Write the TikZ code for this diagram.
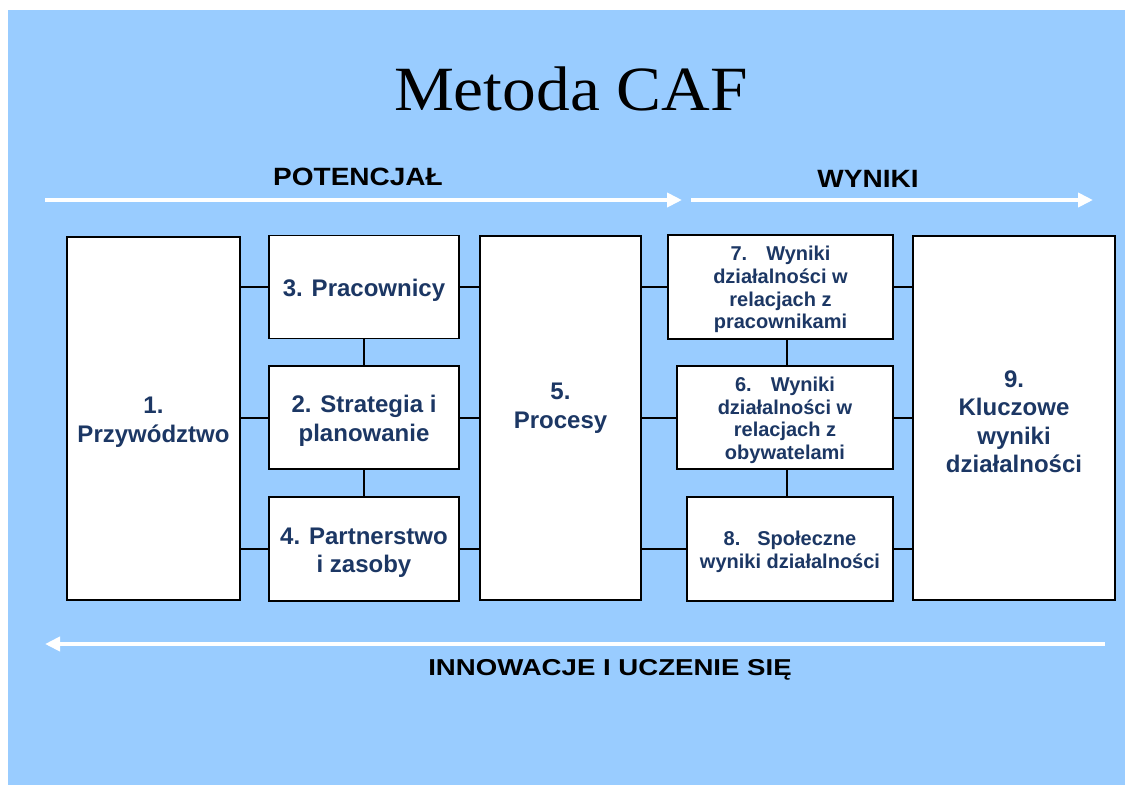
\documentclass[tikz,border=0pt]{standalone}
\usepackage{fontspec}
\setmainfont{Liberation Sans}
\newfontfamily\titlefont[FakeStretch=1.07]{Liberation Serif}
\newfontfamily\headfont[FakeStretch=1.12]{Liberation Sans}
\newfontfamily\innofont[FakeStretch=1.2]{Liberation Sans}
\usetikzlibrary{arrows.meta}
\definecolor{bgblue}{RGB}{153,204,255}
\definecolor{navy}{RGB}{28,55,100}
\newcommand{\bigup}{\rule{0pt}{24pt}}
\newcommand{\smallup}{\rule{0pt}{20pt}}
\begin{document}
\begin{tikzpicture}[x=1pt,y=-1pt,
  box/.style={draw=black, line width=1.5pt, fill=white, inner sep=0pt, align=center,
    text=navy, font=\bfseries\fontsize{24}{28.5}\selectfont},
  smallbox/.style={box, font=\bfseries\fontsize{20}{22.7}\selectfont},
  boxtext/.style={inner sep=0pt, align=center, text=navy, font=\bfseries\fontsize{24}{28.5}\selectfont},
  link/.style={draw=black, line width=2pt},
  flow/.style={draw=white, line width=4pt, -{Triangle[length=15pt,width=14pt]}},
  head/.style={inner sep=0pt, anchor=base, text=black, font=\headfont\bfseries\fontsize{25}{30}\selectfont}]
\useasboundingbox (0,0) rectangle (1125,785);
\fill[white] (0,0) rectangle (1125,785);
\fill[bgblue] (8,10) rectangle (1125,785);

% title
\node[inner sep=0pt, anchor=base, font=\titlefont\fontsize{63}{70}\selectfont] (title) at (571,110) {Metoda CAF};

% headings
\node[head] (pot) at (358,185) {POTENCJAŁ};
\node[head] (wyn) at (868,187) {WYNIKI};
\node[inner sep=0pt, anchor=base, text=black, font=\innofont\bfseries\fontsize{23}{28}\selectfont] (inno) at (610,675) {INNOWACJE I UCZENIE SIĘ};

% arrows
\coordinate (a1s) at (45,200);
\coordinate (a1e) at (682,200);
\coordinate (a2s) at (691,200);
\coordinate (a2e) at (1093,200);
\coordinate (a3s) at (1105,644);
\coordinate (a3e) at (45,644);
\draw[flow] (a1s) -- (a1e);
\draw[flow] (a2s) -- (a2e);
\draw[flow] (a3s) -- (a3e);

% boxes
\node[box, minimum width=173pt, minimum height=363pt] (b1) at (153.5,418.5) {\bigup 1.\\Przywództwo};
\node[box, minimum width=190pt, minimum height=103pt] (b3) at (364,287) {\bigup 3. Pracownicy};
\node[box, minimum width=190pt, minimum height=103pt] (b2) at (364,417.5) {\bigup 2. Strategia i\\planowanie};
\node[box, minimum width=190pt, minimum height=104pt] (b4) at (364,549) {\bigup 4. Partnerstwo\\i zasoby};
\node[box, minimum width=161pt, minimum height=364pt] (b5) at (560.5,418) {};
\node[boxtext] (t5) at ([yshift=10pt]b5.center) {5.\\Procesy};
\node[smallbox, minimum width=225pt, minimum height=104pt] (b7) at (780.5,287) {\smallup 7.\hspace{19pt}Wyniki\\działalności w\\relacjach z\\pracownikami};
\node[smallbox, minimum width=216pt, minimum height=103pt] (b6) at (785,417.5) {\smallup 6.\hspace{19pt}Wyniki\\działalności w\\relacjach z\\obywatelami};
\node[smallbox, minimum width=206pt, minimum height=104pt] (b8) at (790,549) {\smallup 8.\hspace{17pt}Społeczne\\wyniki działalności};
\node[box, minimum width=202pt, minimum height=364pt] (b9) at (1014,418) {\bigup 9.\\Kluczowe\\wyniki\\działalności};

% connectors
\draw[link] (b3.west) -- (b3.west -| b1.east);
\draw[link] (b2.west) -- (b2.west -| b1.east);
\draw[link] (b4.west) -- (b4.west -| b1.east);
\draw[link] (b3.east) -- (b3.east -| b5.west);
\draw[link] (b2.east) -- (b2.east -| b5.west);
\draw[link] (b4.east) -- (b4.east -| b5.west);
\draw[link] (b3.south) -- (b2.north);
\draw[link] (b2.south) -- (b4.north);
\draw[link] (b7.west) -- (b7.west -| b5.east);
\draw[link] (b6.west) -- (b6.west -| b5.east);
\draw[link] (b8.west) -- (b8.west -| b5.east);
\draw[link] (b7.east) -- (b7.east -| b9.west);
\draw[link] (b6.east) -- (b6.east -| b9.west);
\draw[link] (b8.east) -- (b8.east -| b9.west);
\coordinate (vx) at (787,0);
\draw[link] (vx |- b7.south) -- (vx |- b6.north);
\draw[link] (vx |- b6.south) -- (vx |- b8.north);
\end{tikzpicture}
\end{document}
